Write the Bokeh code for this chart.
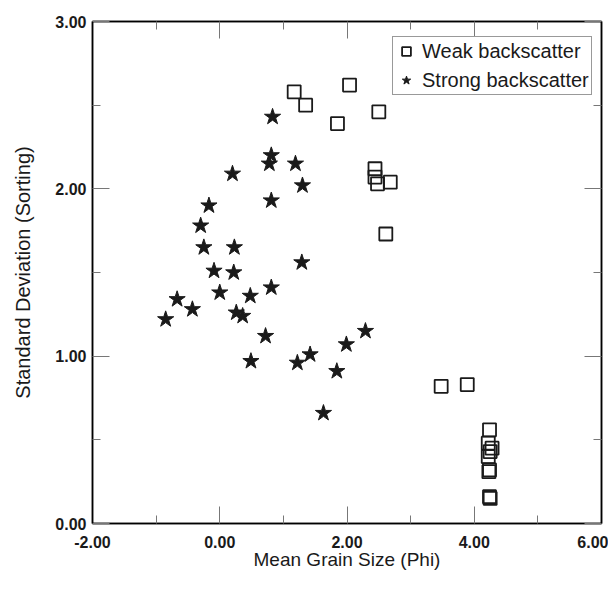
from bokeh.plotting import figure
from bokeh.models import LinearAxis, Range1d, NumeralTickFormatter, Legend, LegendItem, FixedTicker
from bokeh.embed import file_html
from bokeh.resources import INLINE

# Weak backscatter (open squares)
weak_x = [1.17, 1.35, 2.04, 1.85, 2.50, 2.44, 2.44, 2.48, 2.68, 2.61, 3.48, 3.89,
          4.24, 4.22, 4.28, 4.25, 4.22, 4.24, 4.23, 4.24, 4.25]
weak_y = [2.58, 2.50, 2.62, 2.39, 2.46, 2.12, 2.07, 2.03, 2.04, 1.73, 0.82, 0.83,
          0.56, 0.48, 0.45, 0.43, 0.40, 0.32, 0.31, 0.16, 0.15]

# Strong backscatter (filled stars)
strong_x = [0.83, 0.81, 0.78, 0.20, 0.81, -0.17, -0.30, -0.25, 0.23, -0.09, 0.22, 0.00,
            0.81, 0.48, -0.67, -0.43, -0.85, 0.26, 0.36, 0.72, 0.49, 1.19, 1.30, 1.29,
            2.29, 1.99, 1.42, 1.22, 1.84, 1.63]
strong_y = [2.43, 2.20, 2.15, 2.09, 1.93, 1.90, 1.78, 1.65, 1.65, 1.51, 1.50, 1.38,
            1.41, 1.36, 1.34, 1.28, 1.22, 1.26, 1.24, 1.12, 0.97, 2.15, 2.02, 1.56,
            1.15, 1.07, 1.01, 0.96, 0.91, 0.66]

x_major = [-2, 0, 2, 4, 6]
x_minor = [-1, 1, 3, 5]
y_major = [0, 1, 2, 3]
y_minor = [0.5, 1.5, 2.5]

FONT = "Liberation Sans"
INK = "#1a1a1a"

p = figure(width=608, height=585, output_backend="svg", toolbar_location=None,
           x_range=Range1d(-2, 6), y_range=Range1d(0, 3),
           x_axis_location=None, y_axis_location=None,
           min_border_left=92, min_border_top=21, min_border_right=7, min_border_bottom=62)
p.xgrid.visible = False
p.ygrid.visible = False
p.outline_line_color = "black"
p.outline_line_width = 1.5
p.background_fill_color = "white"
p.border_fill_color = "white"


def style_axis(ax, ticks, minor):
    ax.ticker = FixedTicker(ticks=ticks, minor_ticks=minor)
    ax.formatter = NumeralTickFormatter(format="0.00")
    ax.axis_line_color = "black"
    ax.axis_line_width = 1.5
    ax.major_tick_in = 17
    ax.major_tick_out = 0
    ax.minor_tick_in = 8
    ax.minor_tick_out = 0
    ax.major_tick_line_color = "#777777"
    ax.minor_tick_line_color = "#777777"
    ax.major_tick_line_width = 1
    ax.minor_tick_line_width = 1
    ax.major_label_text_font = FONT
    ax.major_label_text_font_style = "bold"
    ax.major_label_text_font_size = "16px"
    ax.major_label_text_color = INK
    ax.axis_label_text_font = FONT
    ax.axis_label_text_font_style = "normal"
    ax.axis_label_text_font_size = "19px"
    ax.axis_label_text_color = INK


xb = LinearAxis(axis_label="Mean Grain Size (Phi)")
style_axis(xb, x_major, x_minor)
xb.major_label_standoff = 12
xb.axis_label_standoff = -2
p.add_layout(xb, "below")

yl = LinearAxis(axis_label="Standard Deviation (Sorting)")
style_axis(yl, y_major, y_minor)
yl.major_label_standoff = 6
yl.axis_label_standoff = 18
yl.axis_label_text_font_size = "20px"
p.add_layout(yl, "left")

# mirrored tick-only axes on top and right
xt = LinearAxis()
style_axis(xt, x_major, x_minor)
xt.major_label_overrides = {t: "" for t in x_major}
xt.major_label_text_font_size = "1px"
xt.major_label_standoff = 0
p.add_layout(xt, "above")

yr = LinearAxis()
style_axis(yr, y_major, y_minor)
yr.major_label_overrides = {t: "" for t in y_major}
yr.major_label_text_font_size = "1px"
yr.major_label_standoff = 0
p.add_layout(yr, "right")

r_weak = p.scatter(weak_x, weak_y, marker="square", size=13, fill_color=None,
                   line_color=INK, line_width=1.8)
r_strong = p.scatter(strong_x, strong_y, marker="star", size=17, fill_color=INK,
                     line_color=INK, line_width=1)

legend = Legend(items=[LegendItem(label="Weak backscatter", renderers=[r_weak]),
                       LegendItem(label="Strong backscatter", renderers=[r_strong])],
                location=(300, 428))
legend.label_text_font = FONT
legend.label_text_font_size = "20px"
legend.label_text_color = INK
legend.border_line_color = "#333333"
legend.border_line_width = 1
legend.padding = 2
legend.spacing = 5
legend.label_height = 24
legend.glyph_height = 24
legend.glyph_width = 22
legend.label_standoff = 5
legend.background_fill_alpha = 1
p.add_layout(legend, "center")

open("out.html", "w").write(file_html(p, INLINE))
